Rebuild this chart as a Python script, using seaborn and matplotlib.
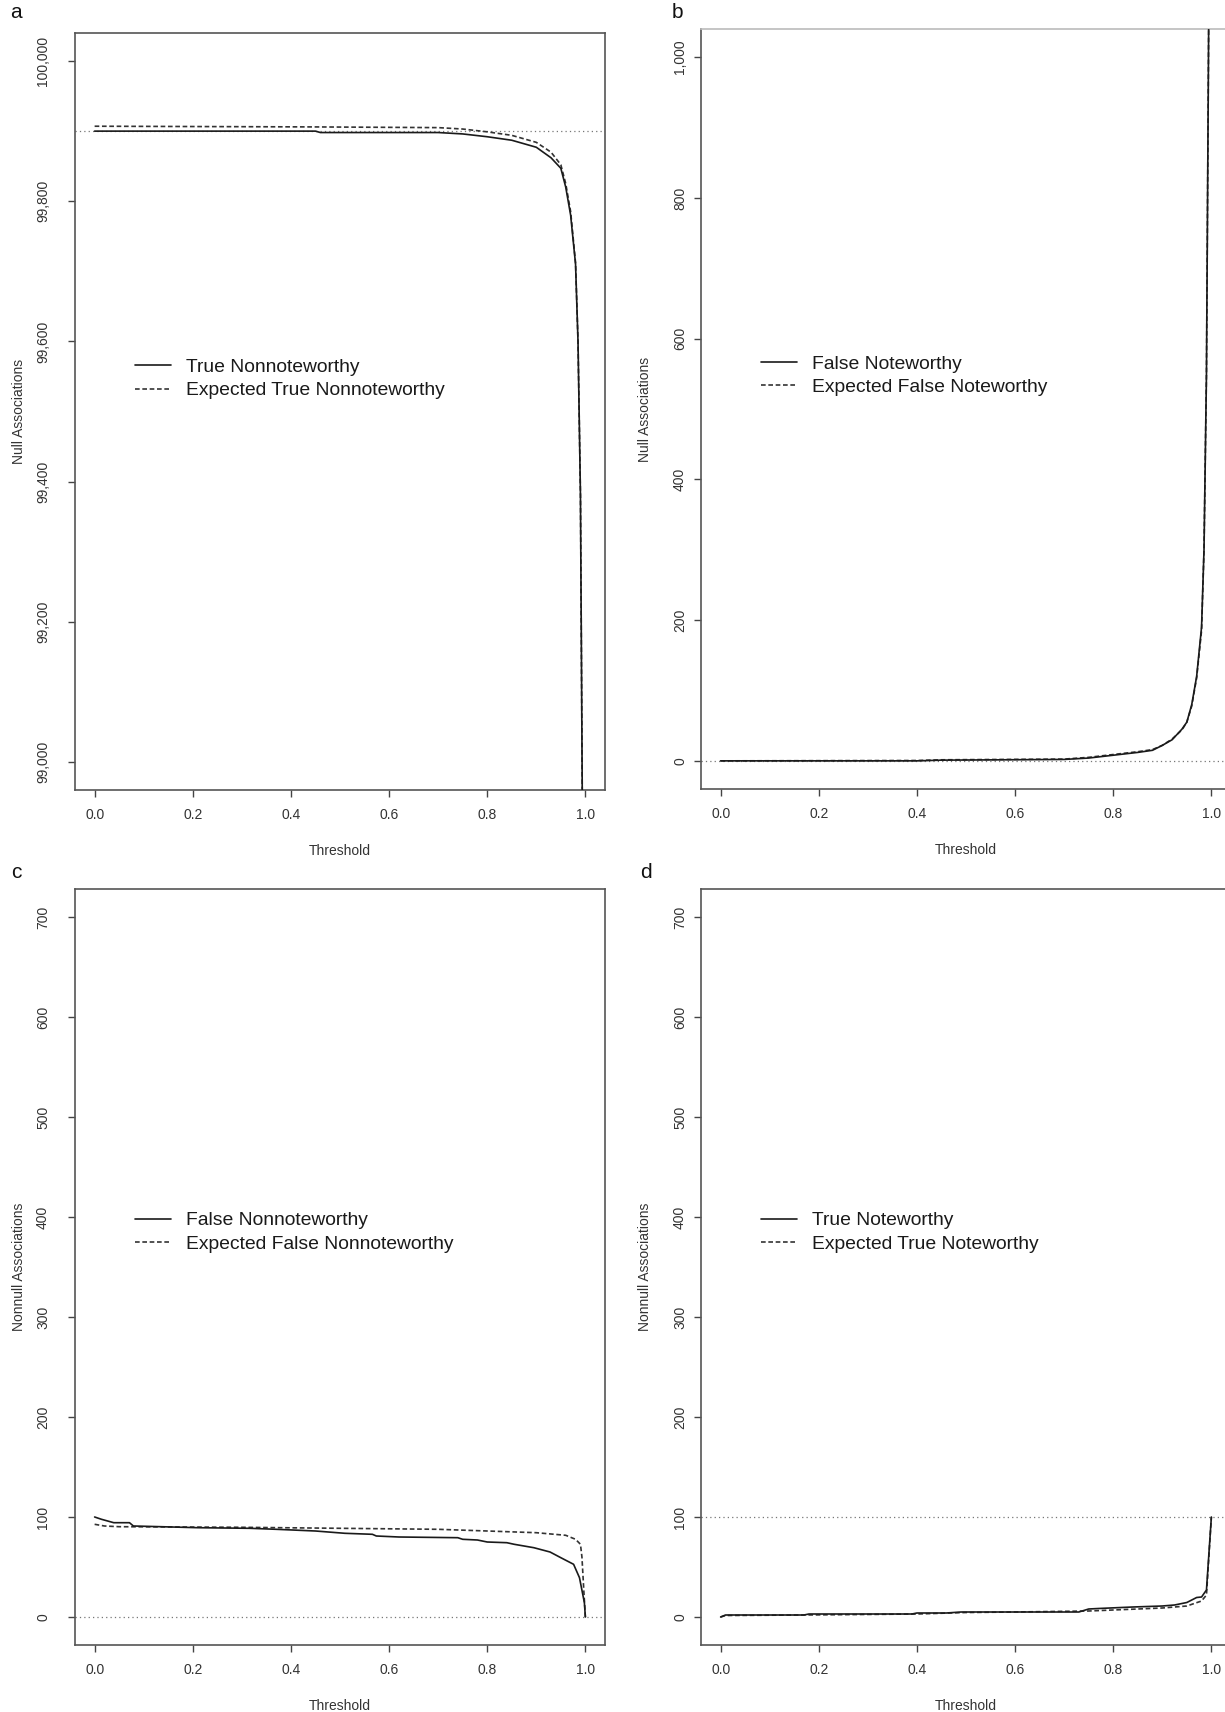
import matplotlib
matplotlib.use("Agg")
import matplotlib.pyplot as plt
import seaborn as sns

# ---- panel a: null associations, true nonnoteworthy ----
a_true_x = [0.0, 0.45, 0.46, 0.70, 0.75, 0.80, 0.85, 0.90, 0.93, 0.95, 0.96, 0.97, 0.98, 0.985, 0.99, 0.995]
a_true_y = [99900, 99900, 99898, 99898, 99896, 99892, 99887, 99877, 99862, 99847, 99820, 99780, 99710, 99600, 99380, 98800]
a_exp_x = [0.0, 0.45, 0.70, 0.75, 0.80, 0.85, 0.90, 0.93, 0.95, 0.96, 0.97, 0.98, 0.985, 0.99, 0.995]
a_exp_y = [99907, 99906, 99905, 99903, 99899, 99894, 99884, 99870, 99852, 99825, 99785, 99712, 99600, 99380, 98800]

# ---- panel b: null associations, false noteworthy ----
b_false_x = [0.0, 0.40, 0.45, 0.70, 0.75, 0.80, 0.85, 0.88, 0.90, 0.92, 0.94, 0.95, 0.96, 0.97, 0.98, 0.985, 0.99, 0.995]
b_false_y = [0, 0, 1, 2, 4, 8, 12, 15, 22, 30, 45, 55, 80, 120, 190, 300, 550, 1100]
b_exp_x = [0.0, 0.40, 0.45, 0.70, 0.75, 0.80, 0.85, 0.88, 0.90, 0.92, 0.94, 0.95, 0.96, 0.97, 0.98, 0.985, 0.99, 0.995]
b_exp_y = [0, 0.5, 1.5, 2.5, 5, 9, 13, 16, 22, 31, 44, 55, 78, 118, 185, 300, 550, 1100]

# ---- panel c: nonnull associations, false nonnoteworthy ----
c_false_x = [0.0, 0.014, 0.039, 0.071, 0.079, 0.135, 0.21, 0.316, 0.37, 0.45, 0.51, 0.566, 0.574, 0.62,
             0.74, 0.75, 0.78, 0.80, 0.84, 0.855, 0.895, 0.928, 0.95, 0.976, 0.988, 0.998, 1.0]
c_false_y = [100, 97.7, 94.3, 94.3, 91, 90.3, 89.3, 88.7, 87.7, 86, 83.7, 82.7, 81, 80,
             79.3, 77.7, 77, 75, 74.3, 72.7, 69.3, 65, 59.3, 52.7, 39.3, 14.3, 0]
c_exp_x = [0.0, 0.02, 0.05, 0.30, 0.50, 0.70, 0.80, 0.90, 0.96, 0.98, 0.99, 0.993, 0.997, 1.0]
c_exp_y = [92.7, 91, 90.3, 89.7, 88.7, 87.7, 86, 84.3, 81.7, 77.7, 72.7, 60, 25, 0]

# ---- panel d: nonnull associations, true noteworthy ----
d_true_x = [0.0, 0.01, 0.17, 0.18, 0.39, 0.40, 0.46, 0.49, 0.73, 0.75, 0.77, 0.84, 0.90, 0.925,
            0.95, 0.97, 0.98, 0.99, 1.0]
d_true_y = [0, 2, 2, 3, 3, 4, 4, 5, 5, 8, 8.5, 10, 11, 12, 14.5, 19.5, 20, 27, 100]
d_exp_x = [0.0, 0.01, 0.17, 0.40, 0.50, 0.60, 0.75, 0.80, 0.90, 0.95, 0.98, 0.99, 1.0]
d_exp_y = [0, 1.5, 2, 3, 4.5, 5, 6, 7, 9, 11, 16, 22, 100]

X_TICKS = [0.0, 0.2, 0.4, 0.6, 0.8, 1.0]

sns.set_theme(style="white")
plt.rcParams["font.family"] = ["Liberation Sans", "DejaVu Sans"]

W, H = 1225, 1712
fig = plt.figure(figsize=(W / 100, H / 100), dpi=100)
fig.patch.set_facecolor("white")


def px_axes(left, top, right, bottom):
    return fig.add_axes([left / W, 1 - bottom / H, (right - left) / W, (bottom - top) / H])


def draw(ax, obs_x, obs_y, exp_x, exp_y, obs_lab, exp_lab, ref):
    ax.axhline(ref, color="#777777", lw=0.9, ls=(0, (1, 2.5)), zorder=1)
    sns.lineplot(x=obs_x, y=obs_y, ax=ax, color="#1a1a1a", lw=1.2,
                 estimator=None, sort=False, label=obs_lab, zorder=3)
    sns.lineplot(x=exp_x, y=exp_y, ax=ax, color="#333333", lw=1.2, linestyle=(0, (2.8, 1.6)),
                 estimator=None, sort=False, label=exp_lab, zorder=2)


def style(ax, ylim, yticks, ylabel, leg_xy, ypad):
    ax.set_xlim(-0.04, 1.04)
    ax.set_ylim(*ylim)
    ax.set_xticks(X_TICKS)
    ax.set_xticklabels([f"{v:.1f}" for v in X_TICKS])
    ax.set_yticks(yticks)
    ax.set_yticklabels([f"{v:,}" for v in yticks])
    ax.tick_params(axis="both", which="major", length=5, width=1, color="#444444",
                   labelsize=10, labelcolor="#333333", direction="out",
                   left=True, bottom=True)
    ax.tick_params(axis="x", pad=8)
    ax.tick_params(axis="y", pad=ypad, labelrotation=90)
    for lab in ax.get_yticklabels():
        lab.set_va("center")
    for s in ax.spines.values():
        s.set_color("#555555")
        s.set_linewidth(1.2)
    ax.set_xlabel("Threshold", fontsize=10, color="#333333")
    ax.xaxis.set_label_coords(0.5, -0.071)
    ax.set_ylabel(ylabel, fontsize=10, color="#333333")
    ax.yaxis.set_label_coords(-0.092, 0.5)
    ax.set_facecolor("white")
    ax.grid(False)
    ax.legend(loc="upper left", bbox_to_anchor=leg_xy, frameon=False,
              borderpad=0, borderaxespad=0, handlelength=1.85, handletextpad=0.8,
              labelspacing=0.3, fontsize=13.9, labelcolor="#1a1a1a")


ax_a = px_axes(75, 33, 605, 790)
draw(ax_a, a_true_x, a_true_y, a_exp_x, a_exp_y,
     "True Nonnoteworthy", "Expected True Nonnoteworthy", 99900)
style(ax_a, (98960, 100040), [99000, 99200, 99400, 99600, 99800, 100000],
      "Null Associations", (0.113, 0.570), 13)

ax_b = px_axes(701, 29, 1231, 789)
draw(ax_b, b_false_x, b_false_y, b_exp_x, b_exp_y,
     "False Noteworthy", "Expected False Noteworthy", 0)
style(ax_b, (-40, 1040), [0, 200, 400, 600, 800, 1000],
      "Null Associations", (0.113, 0.571), 5)
ax_b.spines["top"].set_color("#bbbbbb")

ax_c = px_axes(75, 889, 605, 1645)
draw(ax_c, c_false_x, c_false_y, c_exp_x, c_exp_y,
     "False Nonnoteworthy", "Expected False Nonnoteworthy", 0)
style(ax_c, (-28, 728), [0, 100, 200, 300, 400, 500, 600, 700],
      "Nonnull Associations", (0.113, 0.573), 13)

ax_d = px_axes(701, 889, 1231, 1645)
draw(ax_d, d_true_x, d_true_y, d_exp_x, d_exp_y,
     "True Noteworthy", "Expected True Noteworthy", 100)
style(ax_d, (-28, 728), [0, 100, 200, 300, 400, 500, 600, 700],
      "Nonnull Associations", (0.113, 0.573), 5)

# panel letters
for letter, (px, py) in {"a": (16, 13), "b": (677, 13), "c": (16, 873), "d": (646, 873)}.items():
    fig.text(px / W, 1 - py / H, letter, fontsize=15, color="#111111",
             ha="center", va="center")

fig.savefig("out.png", dpi=100, facecolor="white")
